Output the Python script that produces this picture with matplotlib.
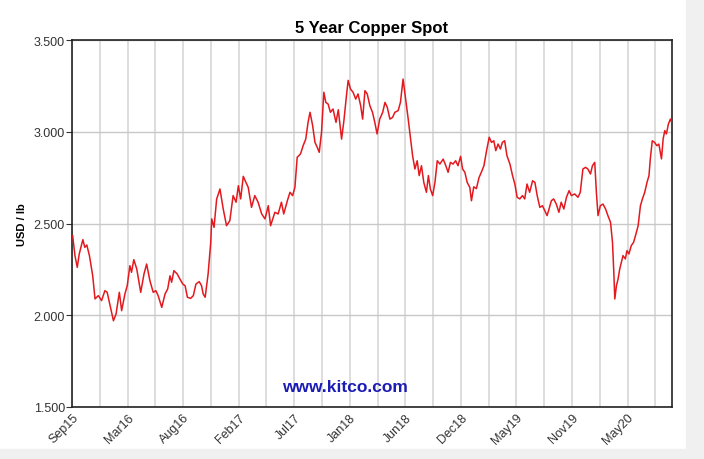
import numpy as np
import pandas as pd
import matplotlib
matplotlib.use("Agg")
import matplotlib.pyplot as plt
import matplotlib.dates as mdates
from matplotlib.ticker import FixedLocator
from matplotlib.patches import Rectangle

plt.rcParams['font.family'] = ['Liberation Sans', 'DejaVu Sans']

# copper spot, USD/lb
dates = [
    "2015-09-17", "2015-09-24", "2015-10-01", "2015-10-07", "2015-10-18", "2015-10-24", "2015-10-30",
    "2015-11-07", "2015-11-17", "2015-11-24", "2015-12-04", "2015-12-14", "2015-12-24", "2015-12-31",
    "2016-01-09", "2016-01-19", "2016-01-27", "2016-02-06", "2016-02-13", "2016-02-23", "2016-03-01",
    "2016-03-09", "2016-03-14", "2016-03-21", "2016-03-30", "2016-04-11", "2016-04-21", "2016-04-29",
    "2016-05-09", "2016-05-19", "2016-05-27", "2016-06-03", "2016-06-14", "2016-06-24", "2016-07-02",
    "2016-07-09", "2016-07-14", "2016-07-21", "2016-07-31", "2016-08-08", "2016-08-17", "2016-08-24",
    "2016-08-31", "2016-09-10", "2016-09-18", "2016-09-26", "2016-10-06", "2016-10-13", "2016-10-18",
    "2016-10-24", "2016-11-02", "2016-11-10", "2016-11-13", "2016-11-20", "2016-11-28", "2016-12-03",
    "2016-12-08", "2016-12-13", "2016-12-18", "2016-12-28", "2017-01-07", "2017-01-17", "2017-01-26",
    "2017-02-02", "2017-02-09", "2017-02-17", "2017-02-25", "2017-03-04", "2017-03-14", "2017-03-24",
    "2017-04-03", "2017-04-14", "2017-04-24", "2017-05-04", "2017-05-11", "2017-05-24", "2017-06-03",
    "2017-06-13", "2017-06-20", "2017-07-01", "2017-07-09", "2017-07-17", "2017-07-24", "2017-07-31",
    "2017-08-10", "2017-08-18", "2017-08-26", "2017-09-02", "2017-09-08", "2017-09-16", "2017-09-23",
    "2017-09-30", "2017-10-06", "2017-10-13", "2017-10-20", "2017-10-26", "2017-11-02", "2017-11-09",
    "2017-11-17", "2017-11-26", "2017-12-03", "2017-12-13", "2017-12-20", "2017-12-28", "2018-01-02",
    "2018-01-09", "2018-01-17", "2018-01-25", "2018-02-01", "2018-02-09", "2018-02-15", "2018-02-22",
    "2018-03-01", "2018-03-09", "2018-03-17", "2018-03-24", "2018-03-31", "2018-04-08", "2018-04-17",
    "2018-04-24", "2018-05-01", "2018-05-09", "2018-05-17", "2018-05-24", "2018-06-03", "2018-06-10",
    "2018-06-18", "2018-06-26", "2018-07-03", "2018-07-11", "2018-07-17", "2018-07-24", "2018-07-31",
    "2018-08-06", "2018-08-13", "2018-08-20", "2018-08-28", "2018-09-03", "2018-09-09", "2018-09-16",
    "2018-09-23", "2018-09-30", "2018-10-08", "2018-10-18", "2018-10-26", "2018-11-02", "2018-11-09",
    "2018-11-17", "2018-11-25", "2018-12-02", "2018-12-10", "2018-12-16", "2018-12-23", "2018-12-30",
    "2019-01-07", "2019-01-12", "2019-01-19", "2019-01-27", "2019-02-04", "2019-02-11", "2019-02-19",
    "2019-02-27", "2019-03-07", "2019-03-14", "2019-03-21", "2019-03-27", "2019-04-03", "2019-04-10",
    "2019-04-16", "2019-04-23", "2019-04-30", "2019-05-09", "2019-05-17", "2019-05-24", "2019-05-31",
    "2019-06-08", "2019-06-16", "2019-06-23", "2019-06-30", "2019-07-08", "2019-07-17", "2019-07-24",
    "2019-07-31", "2019-08-08", "2019-08-16", "2019-08-23", "2019-08-30", "2019-09-05", "2019-09-12",
    "2019-09-19", "2019-09-27", "2019-10-05", "2019-10-12", "2019-10-20", "2019-10-28", "2019-11-05",
    "2019-11-12", "2019-11-22", "2019-12-02", "2019-12-09", "2019-12-17", "2019-12-25", "2020-01-01",
    "2020-01-09", "2020-01-15", "2020-01-22", "2020-01-27", "2020-02-01", "2020-02-08", "2020-02-16",
    "2020-02-24", "2020-03-02", "2020-03-10", "2020-03-16", "2020-03-20", "2020-03-23", "2020-03-28",
    "2020-04-02", "2020-04-07", "2020-04-12", "2020-04-17", "2020-04-24", "2020-04-29", "2020-05-05",
    "2020-05-12", "2020-05-19", "2020-05-25", "2020-06-02", "2020-06-09", "2020-06-15", "2020-06-22",
    "2020-06-29", "2020-07-05", "2020-07-09", "2020-07-15", "2020-07-22", "2020-07-29", "2020-08-04",
    "2020-08-12", "2020-08-17", "2020-08-22", "2020-08-27", "2020-09-02", "2020-09-08", "2020-09-12",
]
prices = [
    2.433, 2.325, 2.261, 2.334, 2.412, 2.370, 2.383,
    2.325, 2.215, 2.089, 2.107, 2.080, 2.134, 2.125,
    2.052, 1.970, 2.007, 2.125, 2.025, 2.116, 2.161,
    2.270, 2.234, 2.303, 2.252, 2.125, 2.225, 2.279,
    2.188, 2.125, 2.134, 2.107, 2.043, 2.116, 2.143,
    2.215, 2.180, 2.243, 2.225, 2.198, 2.170, 2.161,
    2.098, 2.092, 2.107, 2.170, 2.183, 2.161, 2.116,
    2.098, 2.225, 2.397, 2.525, 2.479, 2.634, 2.660,
    2.688, 2.634, 2.579, 2.488, 2.515, 2.652, 2.616,
    2.706, 2.634, 2.757, 2.724, 2.697, 2.588, 2.652,
    2.616, 2.552, 2.525, 2.597, 2.488, 2.561, 2.552,
    2.616, 2.552, 2.624, 2.670, 2.652, 2.697, 2.861,
    2.879, 2.924, 2.960, 3.051, 3.106, 3.033, 2.942,
    2.915, 2.888, 2.997, 3.215, 3.160, 3.151, 3.106,
    3.124, 3.051, 3.120, 2.960, 3.060, 3.200, 3.280,
    3.233, 3.215, 3.178, 3.206, 3.142, 3.069, 3.224,
    3.206, 3.142, 3.106, 3.051, 2.988, 3.069, 3.106,
    3.160, 3.133, 3.069, 3.078, 3.106, 3.115, 3.160,
    3.287, 3.178, 3.078, 2.960, 2.869, 2.797, 2.842,
    2.761, 2.815, 2.724, 2.670, 2.761, 2.688, 2.652,
    2.724, 2.842, 2.824, 2.851, 2.815, 2.779, 2.833,
    2.824, 2.842, 2.815, 2.866, 2.797, 2.779, 2.724,
    2.697, 2.624, 2.700, 2.690, 2.750, 2.779, 2.815,
    2.897, 2.970, 2.942, 2.951, 2.897, 2.933, 2.906,
    2.942, 2.951, 2.869, 2.824, 2.761, 2.715, 2.643,
    2.634, 2.652, 2.634, 2.715, 2.670, 2.733, 2.724,
    2.652, 2.588, 2.597, 2.570, 2.543, 2.579, 2.624,
    2.634, 2.606, 2.561, 2.616, 2.579, 2.643, 2.679,
    2.652, 2.661, 2.643, 2.670, 2.797, 2.806, 2.797,
    2.770, 2.815, 2.833, 2.670, 2.543, 2.597, 2.606,
    2.579, 2.543, 2.507, 2.397, 2.234, 2.089, 2.161,
    2.198, 2.252, 2.289, 2.325, 2.307, 2.352, 2.334,
    2.379, 2.397, 2.434, 2.488, 2.597, 2.634, 2.670,
    2.724, 2.761, 2.852, 2.951, 2.942, 2.924, 2.933,
    2.852, 2.960, 3.006, 2.988, 3.042, 3.069, 3.051,
]
yticks = [1.5, 2.0, 2.5, 3.0, 3.5]

dt = pd.to_datetime(dates)
start = pd.Timestamp("2015-09-15")
end = pd.Timestamp("2020-09-13")

fig = plt.figure(figsize=(7.04, 4.6), dpi=100)
fig.patches.append(Rectangle((686 / 704, 0), 18 / 704, 1, transform=fig.transFigure,
                             color="#f0f0f0", zorder=0))
fig.patches.append(Rectangle((0, 0), 1, 10 / 460, transform=fig.transFigure,
                             color="#f0f0f0", zorder=0))
ax = fig.add_axes([72 / 704, 1 - 408 / 460, 600 / 704, 367 / 460])

ax.plot(dt, prices, color="#e3191e", lw=1.1, zorder=3)

ax.set_xlim(start, end)
ax.set_ylim(1.5, 3.5)
ax.set_yticks(yticks)
ax.set_yticklabels(["%.3f" % v for v in yticks])

major = [start + pd.Timedelta(days=169 * k) for k in range(11)]
minor = [start + pd.Timedelta(days=84.5 + 169 * k) for k in range(11)]
ax.xaxis.set_major_locator(FixedLocator(mdates.date2num(major)))
ax.xaxis.set_minor_locator(FixedLocator(mdates.date2num(minor)))
ax.xaxis.set_major_formatter(mdates.DateFormatter("%b%y"))

ax.grid(True, axis="x", which="both", color="#dddddd", lw=1.4)
ax.grid(True, axis="y", which="major", color="#c8c8c8", lw=1.0)
ax.set_axisbelow(True)

ax.tick_params(axis="y", labelsize=9, length=4, color="#333333", labelcolor="#333333", pad=1)
ax.tick_params(axis="x", which="both", length=0, labelsize=9, labelcolor="#333333", pad=3)
for lab in ax.get_xticklabels():
    lab.set_rotation(45)
    lab.set_ha("right")
    lab.set_rotation_mode("anchor")

for s in ax.spines.values():
    s.set_color("#222222")
    s.set_linewidth(1.2)

ax.set_ylabel("USD / lb", fontsize=8, fontweight="bold", labelpad=5)
ax.set_title("5 Year Copper Spot", fontsize=12, fontweight="bold", pad=6)
ax.text(0.455, 0.035, "www.kitco.com", transform=ax.transAxes, ha="center", va="bottom",
        fontsize=12.5, fontweight="bold", color="#1c1cb4")

fig.savefig("out.png", dpi=100)
